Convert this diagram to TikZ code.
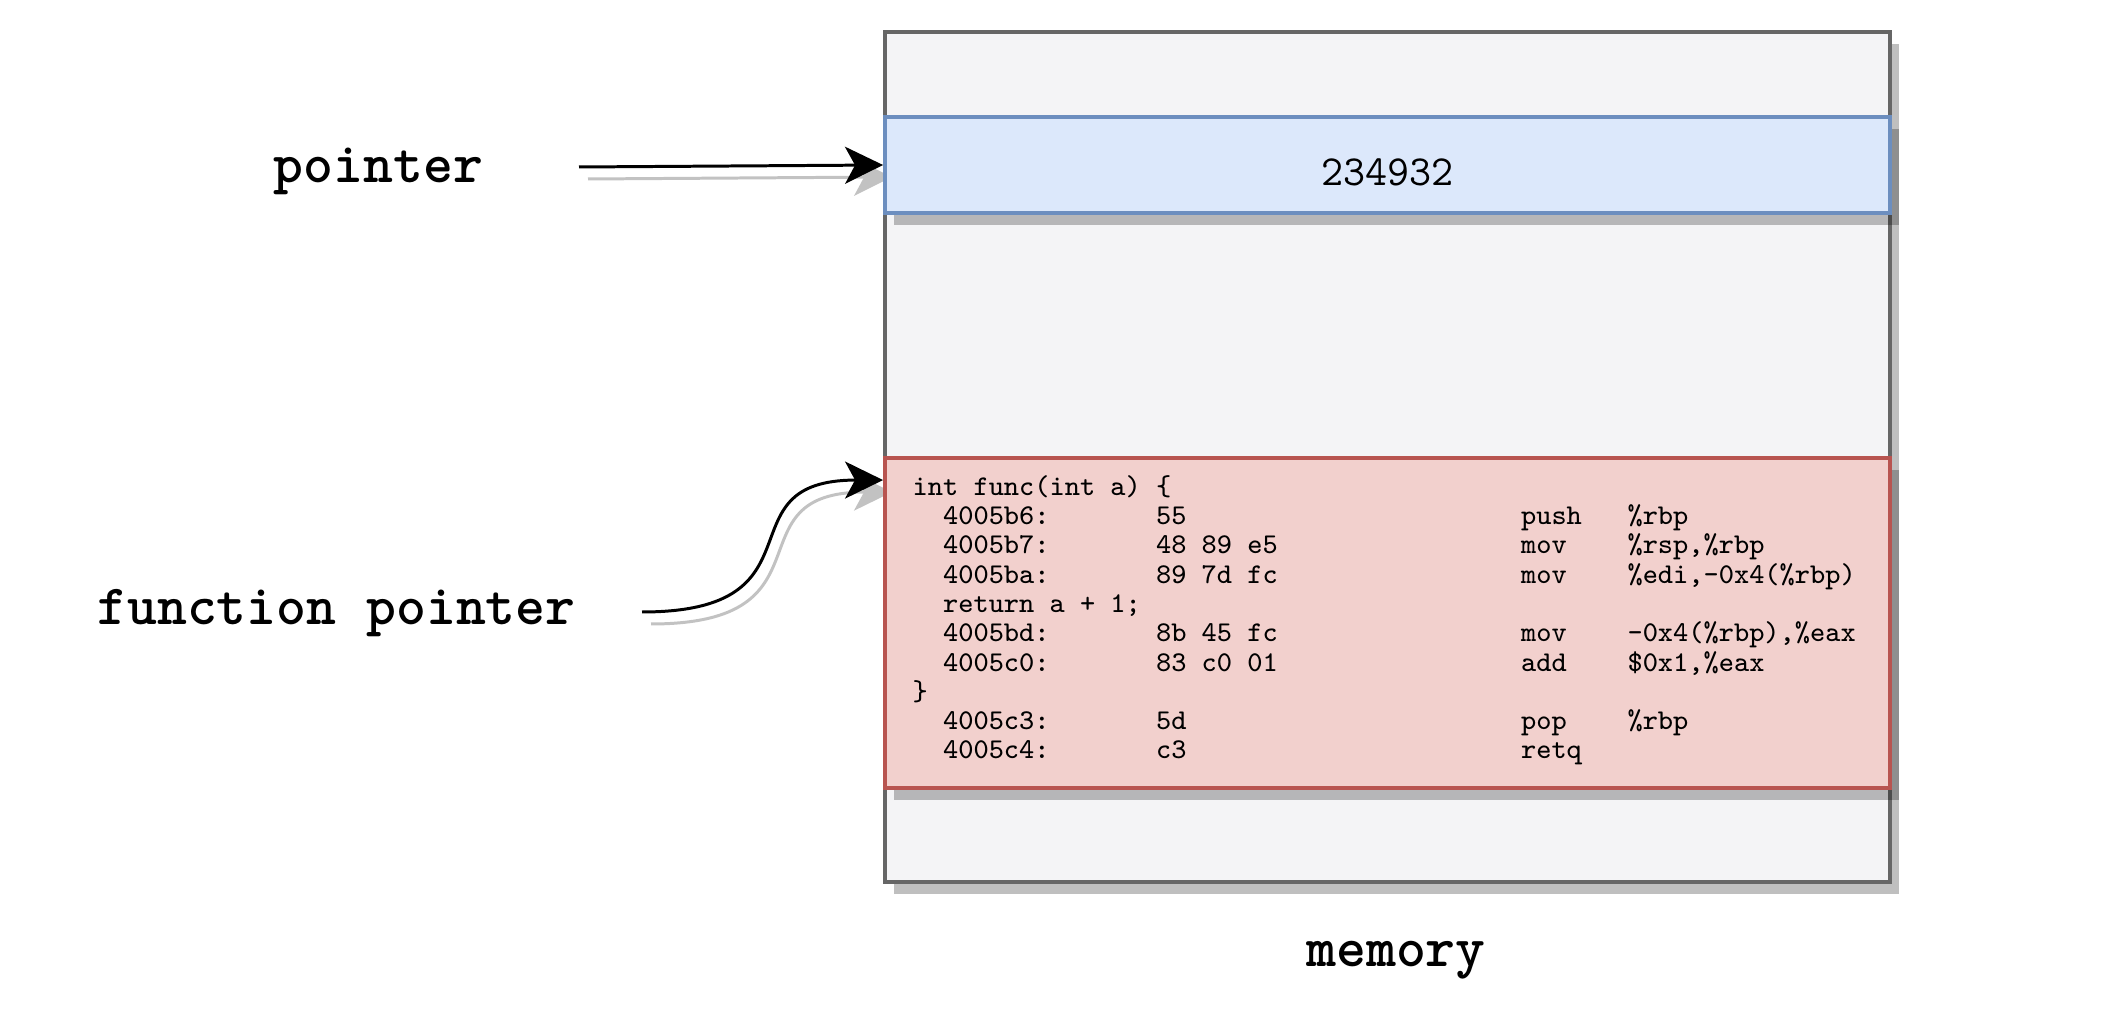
\documentclass[tikz,border=0pt]{standalone}
\usetikzlibrary{arrows.meta,shadows,backgrounds}

\definecolor{memfill}{HTML}{F4F4F6}
\definecolor{memline}{HTML}{666666}
\definecolor{ptrfill}{HTML}{DCE8FB}
\definecolor{ptrline}{HTML}{6C8EBF}
\definecolor{codefill}{HTML}{F2D0CD}
\definecolor{codeline}{HTML}{B85450}

% one disassembly line: address, bytes, mnemonic, operands
\newlength\cw
\newcommand\asm[4]{\settowidth\cw{0}\hspace*{2\cw}\makebox[14\cw][l]{#1}\makebox[24\cw][l]{#2}\makebox[7\cw][l]{#3}#4}

\tikzset{
  cell/.style={rectangle, draw, line width=1.1pt, minimum width=10.05cm, inner sep=0pt,
    drop shadow={shadow xshift=0.09cm, shadow yshift=-0.12cm, fill=black, opacity=0.25}},
  tag/.style={font=\ttfamily\bfseries\fontsize{16.2pt}{18pt}\selectfont, inner sep=0pt, anchor=base},
  code/.style={font=\ttfamily\fontsize{8.15pt}{8.34pt}\selectfont, inner sep=0pt, align=left},
  link/.style={line width=0.85pt, -{Stealth[length=3.8mm,width=3.7mm,inset=1mm]}},
  linkshadow/.style={link, draw=black!24, transform canvas={xshift=0.09cm,yshift=-0.12cm}}
}

\begin{document}
\begin{tikzpicture}
  \useasboundingbox (0,0) rectangle (21.12,10.10);

  % memory and its two cells
  \node[cell, draw=memline, fill=memfill, minimum height=8.5cm] (mem) at (13.875,5.53) {};
  \node[cell, draw=ptrline, fill=ptrfill, minimum height=0.96cm] (ptr) at (13.875,8.45) {};
  \node[cell, draw=codeline, fill=codefill, minimum height=3.30cm] (func) at (13.875,3.87) {};
  \node[font=\ttfamily\fontsize{12.2pt}{14pt}\selectfont, inner sep=0pt] (val) at ([yshift=-0.07cm]ptr.center) {234932};
  \node[code, anchor=base west] (src) at (9.12,2.51) {%
    int func(int a) \{\\
    \asm{4005b6:}{55}{push}{\%rbp}\\
    \asm{4005b7:}{48 89 e5}{mov}{\%rsp,\%rbp}\\
    \asm{4005ba:}{89 7d fc}{mov}{\%edi,-0x4(\%rbp)}\\
    \settowidth\cw{0}\hspace*{2\cw}return a + 1;\\
    \asm{4005bd:}{8b 45 fc}{mov}{-0x4(\%rbp),\%eax}\\
    \asm{4005c0:}{83 c0 01}{add}{\$0x1,\%eax}\\
    \}\\
    \asm{4005c3:}{5d}{pop}{\%rbp}\\
    \asm{4005c4:}{c3}{retq}{}};

  % labels
  \node[tag] (ptrtag) at (3.785,8.27) {pointer};
  \node[tag] (fptrtag) at (3.365,3.85) {function pointer};
  \node[tag] (memtag) at (13.96,0.43) {memory};

  \coordinate (ptrtail) at (5.79,8.43);
  \coordinate (fptrtail) at (6.42,3.98);
  \coordinate (fptrhead) at ([yshift=-0.24cm]func.north west);

  \begin{pgfonlayer}{background}
    \draw[linkshadow] (ptrtail) -- (ptr.west);
    \draw[linkshadow] (fptrtail) .. controls +(1.88,0) and +(-1.65,0) .. (fptrhead);
  \end{pgfonlayer}

  \draw[link] (ptrtail) -- (ptr.west);
  \draw[link] (fptrtail) .. controls +(1.88,0) and +(-1.65,0) .. (fptrhead);
\end{tikzpicture}
\end{document}
